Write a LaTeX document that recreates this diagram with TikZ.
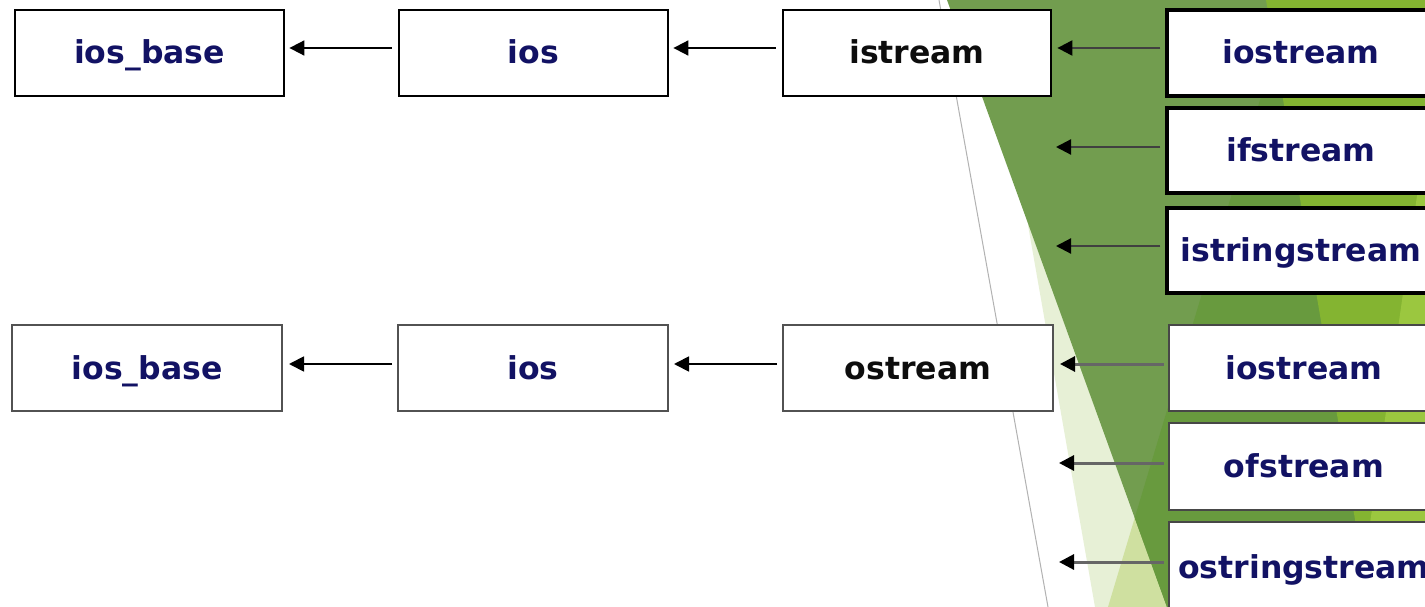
\documentclass[tikz,border=0pt]{standalone}
\usepackage{fontspec}
\setmainfont{DejaVu Sans}
\usetikzlibrary{arrows.meta}
\definecolor{navy}{RGB}{18,18,100}
\definecolor{gM}{RGB}{114,157,79}
\definecolor{gD}{RGB}{104,154,62}
\definecolor{gB}{RGB}{132,180,49}
\definecolor{gBB}{RGB}{155,199,63}
\definecolor{gP}{RGB}{231,240,214}
\definecolor{gL}{RGB}{207,224,160}
\begin{document}
\begin{tikzpicture}[x=1pt,y=-1pt,
  box/.style={draw=black, line width=2.8pt, fill=white, minimum width=269pt, minimum height=86pt,
    inner sep=0pt, text height=24pt, text depth=2pt,
    font=\bfseries\fontsize{31.5}{36}\selectfont, text=navy},
  boxr/.style={box, line width=3.2pt},
  boxg/.style={box, draw=black!68, line width=2pt},
  boxgr/.style={box, draw=black!72, line width=2.6pt},
  tip/.style={-{Triangle[length=15pt,width=15pt,color=black]}},
  arr/.style={line width=1.8pt, draw=black, tip},
  arrr/.style={line width=2.2pt, draw=black!75, tip},
  arrg/.style={line width=3pt, draw=black!60, tip}
]
\useasboundingbox (0,0) rectangle (1425,607);
\fill[white] (0,0) rectangle (1425,607);
% background facets
\fill[gP] (1028,225) -- (1095,607) -- (1425,607) -- (1425,225) -- cycle;
\fill[gL] (1290,0) -- (1108,607) -- (1425,607) -- (1425,0) -- cycle;
\fill[gM] (947,0) -- (1167,607) -- (1425,607) -- (1425,0) -- cycle;
\begin{scope}
  \clip (947,0) -- (1167,607) -- (1425,607) -- (1425,0) -- cycle;
  \fill[gD] (1290,0) -- (1108,607) -- (1425,607) -- (1425,0) -- cycle;
\end{scope}
\fill[gB] (1266,0) -- (1370,607) -- (1425,607) -- (1425,0) -- cycle;
\fill[gBB] (1425,140) -- (1358,607) -- (1425,607) -- cycle;
\draw[black!30, line width=1pt] (939,0) -- (1048,607);

% top row
\node[box] (b1) at (149.5,53) {ios\_base};
\node[box] (i1) at (533.5,53) {ios};
\node[box, minimum width=268pt, text=black!95] (is) at (917,53) {istream};
\node[boxr, minimum width=268pt] (ios1) at (1301,53) {iostream};
\node[boxr, minimum width=268pt, minimum height=85pt] (ifs) at (1301,150.5) {ifstream};
\node[boxr, minimum width=268pt, minimum height=85pt] (iss) at (1301,250.5) {istringstream};
% bottom row
\node[boxg, minimum width=270pt] (b2) at (147,368) {ios\_base};
\node[boxg, minimum width=270pt] (i2) at (533,368) {ios};
\node[boxg, minimum width=270pt, text=black!95] (os) at (918,368) {ostream};
\node[boxgr, minimum width=270pt] (ios2) at (1304,368) {iostream};
\node[boxgr, minimum width=270pt, minimum height=87pt] (ofs) at (1304,466.5) {ofstream};
\node[boxgr, minimum width=270pt, minimum height=90pt] (oss) at (1304,567) {ostringstream};

\coordinate (t2) at (1056,147);
\coordinate (t3) at (1056,246);
\coordinate (t5) at (1059,463);
\coordinate (t6) at (1059,562);

% arrows top
\draw[arr] ([xshift=-6pt,yshift=5pt]i1.west) -- ([xshift=4pt,yshift=5pt]b1.east);
\draw[arr] ([xshift=-6pt,yshift=5pt]is.west) -- ([xshift=4pt,yshift=5pt]i1.east);
\draw[arrr] ([xshift=-5pt,yshift=5pt]ios1.west) -- ([xshift=5pt,yshift=5pt]is.east);
\draw[arrr] ([xshift=-5pt]ifs.west |- t2) -- (t2);
\draw[arrr] ([xshift=-5pt]iss.west |- t3) -- (t3);
% arrows bottom
\draw[arr] ([xshift=-5pt,yshift=4pt]i2.west) -- ([xshift=6pt,yshift=4pt]b2.east);
\draw[arr] ([xshift=-5pt,yshift=4pt]os.west) -- ([xshift=5pt,yshift=4pt]i2.east);
\draw[arrg] ([xshift=-4pt,yshift=4pt]ios2.west) -- ([xshift=6pt,yshift=4pt]os.east);
\draw[arrg] ([xshift=-4pt]ofs.west |- t5) -- (t5);
\draw[arrg] ([xshift=-4pt]oss.west |- t6) -- (t6);
\end{tikzpicture}
\end{document}
